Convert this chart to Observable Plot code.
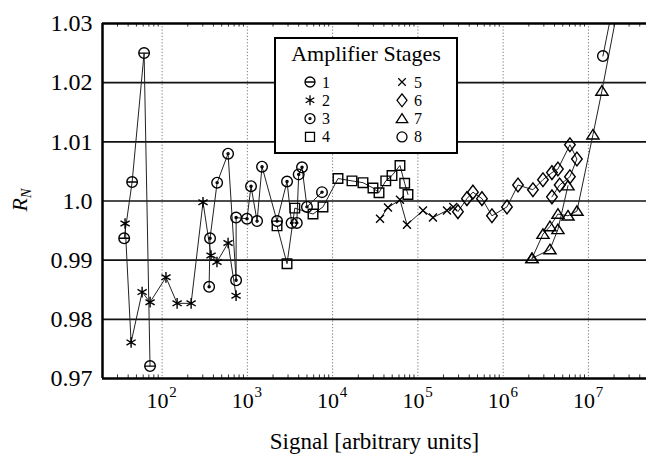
<!DOCTYPE html>
<html><head><meta charset="utf-8">
<script src="https://cdn.jsdelivr.net/npm/d3@7"></script>
<script src="https://cdn.jsdelivr.net/npm/@observablehq/plot@0.6"></script>
<style>html,body{margin:0;padding:0;background:#fff;overflow:hidden}
svg, svg text{font-family:"Liberation Serif","Times New Roman",serif !important}</style>
</head><body><div id="chart"></div>
<script>
// ---- data: [signal, R_N] per amplifier stage ----
const stage1 = [[35.9,0.9937],[44.5,1.0032],[61.5,1.0250],[72.2,0.9721]];
const stage2 = [[36.8,0.9962],[43.3,0.9761],[58.3,0.9846],[72.3,0.9829],[111,0.9871],[150,0.9827],[219,0.9827],[302,0.9998],[375,0.9908],[440,0.9897],[594,0.9929],[737,0.9840]];
const stage3 = [[356,0.9855],[365,0.9937],[442,1.0031],[594,1.0080],[738,0.9866],[738,0.9972],[990,0.9970],[1104,1.0025],[1300,0.9966],[1486,1.0058],[2228,0.9966],[2919,1.0033],[3300,0.9963],[3800,0.9963],[4000,1.0045],[4375,1.0057],[5000,0.9990],[7505,1.0015]];
const stage4 = [[2228,0.9958],[2919,0.9894],[3600,0.9988],[5888,0.9978],[7710,0.9990],[11560,1.0038],[16870,1.0034],[22700,1.0031],[29730,1.0022],[35000,1.0014],[42000,1.0034],[49700,1.0043],[61660,1.0060],[70000,1.0030],[76500,1.0011]];
const stage5 = [[35980,0.9970],[44600,0.9989],[61660,1.0002],[74500,0.9960],[114700,0.9984],[150300,0.9972],[219300,0.9984],[260000,0.9990]];
const stage6 = [[295000,0.9982],[376000,1.0004],[442000,1.0015],[564000,1.0004],[739000,0.9975],[1109000,0.9990],[1493000,1.0027],[2235000,1.0019],[2930000,1.0036],[3735000,1.0048],[4390000,1.0054],[6070000,1.0095],[7330000,1.0071],[6070000,1.0041],[4600000,1.0027],[3735000,1.0007]];
const stage7 = [[2180000,0.9903],[2930000,0.9944],[3540000,0.9957],[4390000,0.9978],[5760000,0.9975],[7340000,0.9983],[11300000,1.0112],[14400000,1.0186],[24500000,1.036]];
const stage7b = [[2180000,0.9903],[3540000,0.9918],[4390000,0.9952],[5760000,1.0026]];
const stage8 = [[14800000,1.0245],[21300000,1.036]];

const stageLabels = ["1","2","3","4","5","6","7","8"];
const decadeTicks = [1e2,1e3,1e4,1e5,1e6,1e7];
const decadeExponents = ["2","3","4","5","6","7"];
const yTicks = [0.97,0.98,0.99,1.0,1.01,1.02,1.03];
const yTickLabels = ["0.97","0.98","0.99","1.0","1.01","1.02","1.03"];
const gridLevels = [0.98,0.99,1.0,1.01,1.02];
const xTitle = "Signal [arbitrary units]";
const legendTitle = "Amplifier Stages";

const FONT = '"Liberation Serif","Times New Roman",serif';
const xDomain = [20, 4.8e7];
const minorTicks = [];
for (let e = 1; e <= 7; e++) for (let m = 2; m <= 9; m++) { const v = m * 10 ** e; if (v > xDomain[0] && v < xDomain[1]) minorTicks.push(v); }

function sym(fn){ return {draw(c, size){ const r = Math.sqrt(size / Math.PI); fn(c, r); }}; }
const symbols = [
  sym((c,r)=>{c.moveTo(r,0);c.arc(0,0,r,0,2*Math.PI);c.moveTo(-r,0);c.lineTo(r,0);}),
  sym((c,r)=>{for(let k=0;k<3;k++){const a=Math.PI/2+k*Math.PI/3,dx=Math.cos(a)*r,dy=Math.sin(a)*r;c.moveTo(-dx,-dy);c.lineTo(dx,dy);}}),
  sym((c,r)=>{c.moveTo(r,0);c.arc(0,0,r,0,2*Math.PI);c.moveTo(1,0);c.arc(0,0,1,0,2*Math.PI);}),
  sym((c,r)=>{const s=r*0.9;c.rect(-s,-s,2*s,2*s);}),
  sym((c,r)=>{const s=r*0.75;c.moveTo(-s,-s);c.lineTo(s,s);c.moveTo(s,-s);c.lineTo(-s,s);}),
  sym((c,r)=>{const w=r*1.0,h=r*1.3;c.moveTo(0,-h);c.lineTo(w,0);c.lineTo(0,h);c.lineTo(-w,0);c.closePath();}),
  sym((c,r)=>{const w=r*1.15,h=r*1.0;c.moveTo(0,-h);c.lineTo(w,h*0.8);c.lineTo(-w,h*0.8);c.closePath();}),
  sym((c,r)=>{c.moveTo(r,0);c.arc(0,0,r,0,2*Math.PI);})
];
const series = [
  {data: stage1, s: 0},{data: stage2, s: 1},{data: stage3, s: 2},{data: stage4, s: 3},
  {data: stage5, s: 4},{data: stage6, s: 5},{data: stage7, s: 6},{data: stage7b, s: 6},{data: stage8, s: 7}
];

const marks = [
  Plot.ruleX(decadeTicks, {stroke: "#777", strokeWidth: 1, strokeDasharray: "1.2,2"}),
  Plot.ruleY(gridLevels, {stroke: "#111", strokeWidth: 1.6}),
  Plot.ruleX(minorTicks, {y1: 0.97, y2: 0.9706, stroke: "#333", strokeWidth: 1}),
  Plot.ruleX(minorTicks, {y1: 1.03, y2: 1.0294, stroke: "#333", strokeWidth: 1}),
];
for (const sr of series) {
  marks.push(Plot.line(sr.data, {x: d => d[0], y: d => d[1], stroke: "#222", strokeWidth: 1, clip: true}));
}
for (const sr of series) {
  marks.push(Plot.dot(sr.data, {x: d => d[0], y: d => d[1], symbol: symbols[sr.s], r: 5.3, fill: "none", stroke: "#000", strokeWidth: 1.4, clip: true}));
}
marks.push(
  Plot.ruleY([0.97, 1.03], {stroke: "#000", strokeWidth: 2.5}),
  Plot.ruleX([xDomain[0]], {stroke: "#000", strokeWidth: 2.5}),
  Plot.axisY(yTicks, {tickSize: 0, tickPadding: 10, fontSize: 24, fontFamily: FONT, tickFormat: d => yTickLabels[yTicks.indexOf(d)], label: null}),
  Plot.text(decadeTicks, {x: d => d, frameAnchor: "bottom", text: () => "10", dx: -4.5, dy: 29, fontSize: 22, fontFamily: FONT, lineAnchor: "bottom"}),
  Plot.text(decadeTicks, {x: d => d, frameAnchor: "bottom", text: (d, i) => decadeExponents[i], dx: 11, dy: 18, fontSize: 15, fontFamily: FONT, lineAnchor: "bottom"}),
  Plot.text([xTitle], {frameAnchor: "bottom", text: d => d, dy: 70, fontSize: 23, fontFamily: FONT, lineAnchor: "bottom"})
);

const chart = Plot.plot({
  width: 646, height: 456,
  marginLeft: 102, marginRight: 0, marginTop: 23, marginBottom: 78,
  style: {background: "white", color: "#000", overflow: "hidden"},
  x: {type: "log", domain: xDomain, axis: null},
  y: {domain: [0.97, 1.03], axis: null},
  marks
});

const svg = d3.select(chart);
svg.attr("font-family", FONT).style("font-family", FONT);
// y-axis label R_N
const yl = svg.append("text").attr("transform", "translate(27,200) rotate(-90)")
  .attr("text-anchor", "middle").attr("font-family", FONT).attr("font-style", "italic").attr("fill", "#000");
yl.append("tspan").attr("font-size", 22).text("R");
yl.append("tspan").attr("font-size", 14).attr("dy", 4).text("N");
// legend
const lg = svg.append("g").attr("font-family", FONT).attr("fill", "#000");
lg.append("rect").attr("x", 275).attr("y", 38).attr("width", 182).attr("height", 115)
  .attr("fill", "white").attr("stroke", "#000").attr("stroke-width", 2);
lg.append("text").attr("x", 366).attr("y", 61).attr("text-anchor", "middle").attr("font-size", 22).text(legendTitle);
stageLabels.forEach((lab, i) => {
  const col = i < 4 ? 0 : 1, row = i % 4;
  const sx = col ? 402 : 310, y = 82 + row * 18.3;
  lg.append("path").attr("transform", `translate(${sx},${y})`)
    .attr("d", d3.symbol().type(symbols[i]).size(Math.PI * 25)())
    .attr("fill", "none").attr("stroke", "#000").attr("stroke-width", 1.3);
  lg.append("text").attr("x", sx + 16).attr("y", y + 5.5).attr("font-size", 16).text(lab);
});

document.getElementById("chart").appendChild(chart);
</script>
</body></html>
